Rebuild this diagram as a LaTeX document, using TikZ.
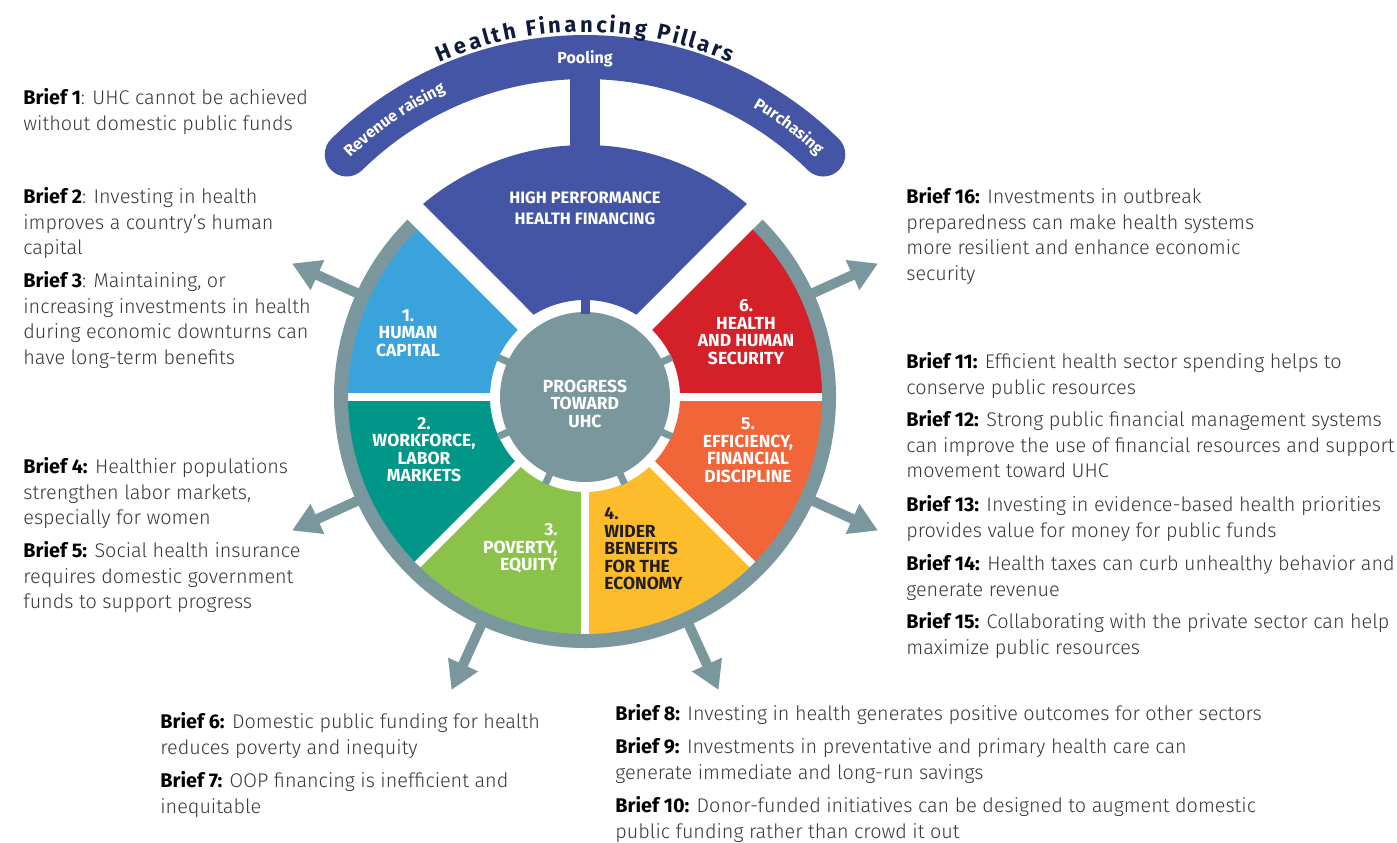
\documentclass[tikz,border=0pt]{standalone}
\usepackage{fontspec}
\setmainfont{Fira Sans}[UprightFont={* Light},BoldFont={* Bold}]
\newfontfamily\labelfam{Fira Sans}[UprightFont={* Bold}]
\usetikzlibrary{arrows.meta,decorations.text}
\definecolor{pblue}{RGB}{69,85,165}
\definecolor{pcyan}{RGB}{58,163,220}
\definecolor{pteal}{RGB}{0,150,136}
\definecolor{pgreen}{RGB}{139,195,74}
\definecolor{pyellow}{RGB}{253,188,44}
\definecolor{porange}{RGB}{241,101,57}
\definecolor{pred}{RGB}{212,32,41}
\definecolor{pgray}{RGB}{122,151,157}
\definecolor{pnavy}{RGB}{16,27,60}
\definecolor{ptext}{RGB}{55,55,55}
\definecolor{pdark}{RGB}{35,31,32}
\newcommand\brieffont{\fontsize{9.9pt}{12.85pt}\selectfont}
\newcommand\segfont{\labelfam\fontsize{8.75pt}{8.75pt}\selectfont}
\newcommand\hpfont{\labelfam\fontsize{8.25pt}{10.5pt}\selectfont}
\newcommand\bandfont{\labelfam\fontsize{8pt}{9pt}\selectfont}
\newcommand\titlefont{\labelfam\fontsize{11pt}{12pt}\selectfont}
\newcommand\briefhead[1]{{\bfseries\color{black}#1}}
\newcommand\firstln{\rule{0pt}{10pt}}
\begin{document}
\begin{tikzpicture}[x=0.5pt,y=0.5pt,
  brief/.style={anchor=north west, inner sep=0pt, align=left, font=\brieffont, text=ptext},
  seglabel/.style={inner sep=0pt, align=center, font=\segfont, text=white},
  spoke/.style={pgray, line width=5pt, -{Triangle[length=14pt,width=15.5pt]}},
  gapline/.style={white, line width=4pt},
  tab/.style={pgray, line width=3.5pt},
]
\useasboundingbox (0,0) rectangle (1397,-842);
\coordinate (C) at (585,-397);
\begin{scope}[shift={(C)}]
  % pillars band and stem
  \draw[pblue, line width=22pt, line cap=round] (134.5:340) arc (134.5:45.5:340);
  \fill[pblue] (-15,245) rectangle (15,325);
  % top wedge
  \fill[pblue] (130:252) arc (130:50:252) -- (58.06:97) arc (58.06:121.94:97) -- cycle;
  % coloured segments
  \fill[pcyan]   (135:95) -- (135:238) arc (135:180:238) -- (180:95) arc (180:135:95) -- cycle;
  \fill[pteal]   (180:95) -- (180:238) arc (180:225:238) -- (225:95) arc (225:180:95) -- cycle;
  \fill[pgreen]  (225:95) -- (225:238) arc (225:270:238) -- (270:95) arc (270:225:95) -- cycle;
  \fill[pyellow] (270:95) -- (270:238) arc (270:315:238) -- (315:95) arc (315:270:95) -- cycle;
  \fill[porange] (315:95) -- (315:238) arc (315:360:238) -- (360:95) arc (360:315:95) -- cycle;
  \fill[pred]    (0:95) -- (0:238) arc (0:45:238) -- (45:95) arc (45:0:95) -- cycle;
  \foreach \a in {0,180,225,270,315} \draw[gapline] (\a:88) -- (\a:240);
  % spokes
  \foreach \a in {24.5,155.5,204.5,245.5,294.5,335.5} \draw[spoke] (\a:244) -- (\a:322);
  % outer ring
  \fill[pgray] (135:251) arc (135:405:251) -- (405:237) arc (405:135:237) -- cycle;
  % hub
  \foreach \a in {24.5,155.5,204.5,245.5,294.5,335.5} \draw[tab] (\a:83) -- (\a:95.5);
  \fill[pgray] (0,0) circle (85);
  \fill[pblue] (-4.5,83) rectangle (4.5,99);
  % arc texts
  \path[decorate, decoration={text effects along path, text={Health Financing Pillars},
     text effects/.cd, text along path, fit text to path,
     characters={text=pnavy, font=\titlefont}}] (113.5:365) arc (113.5:66.5:365);
  \path[decorate, decoration={text along path, text align=center,
     text={|\bandfont\color{white}|Revenue raising}}] (142:335) arc (142:107:335);
  \path[decorate, decoration={text along path, text align=center,
     text={|\bandfont\color{white}|Purchasing}}] (68:335) arc (68:38:335);
\end{scope}
\node[inner sep=0pt, font=\bandfont, text=white] (pool) at (585,-59) {Pooling};
\node[seglabel, font=\hpfont] (hpf) at (585,-208.5) {HIGH PERFORMANCE\\HEALTH FINANCING};
\node[seglabel] (core) at (585,-403.5) {PROGRESS\\TOWARD\\UHC};
\node[seglabel] (s1) at (408,-333) {1.\\HUMAN\\CAPITAL};
\node[seglabel] (s2) at (424,-449.5) {2.\\WORKFORCE,\\LABOR\\MARKETS};
\node[seglabel, align=right, anchor=east] (s3) at (558,-548.5) {3.\\POVERTY,\\EQUITY};
\node[seglabel, align=left, anchor=west, text=pdark] (s4) at (604,-549) {4.\\WIDER\\BENEFITS\\FOR THE\\ECONOMY};
\node[seglabel] (s5) at (748,-450) {5.\\EFFICIENCY,\\FINANCIAL\\DISCIPLINE};
\node[seglabel] (s6) at (746,-332) {6.\\HEALTH\\AND HUMAN\\SECURITY};
% briefs
\node[brief] (b1) at (23,-84) {\firstln\briefhead{Brief 1}: UHC cannot be achieved\\without domestic public funds};
\node[brief] (b2) at (23,-183) {\firstln\briefhead{Brief 2}: Investing in health\\improves a country’s human\\capital};
\node[brief] (b3) at (23,-267) {\firstln\briefhead{Brief 3}: Maintaining, or\\increasing investments in health\\during economic downturns can\\have long-term benefits};
\node[brief] (b4) at (23,-453) {\firstln\briefhead{Brief 4:} Healthier populations\\strengthen labor markets,\\especially for women};
\node[brief] (b5) at (23,-537) {\firstln\briefhead{Brief 5:} Social health insurance\\requires domestic government\\funds to support progress};
\node[brief] (b6) at (160,-708) {\firstln\briefhead{Brief 6:} Domestic public funding for health\\reduces poverty and inequity};
\node[brief] (b7) at (160,-767) {\firstln\briefhead{Brief 7:} OOP financing is inefficient and\\inequitable};
\node[brief] (b8) at (615,-700) {\firstln\briefhead{Brief 8:} Investing in health generates positive outcomes for other sectors};
\node[brief] (b9) at (615,-733) {\firstln\briefhead{Brief 9:} Investments in preventative and primary health care can\\generate immediate and long-run savings};
\node[brief] (b10) at (615,-792) {\firstln\briefhead{Brief 10:} Donor-funded initiatives can be designed to augment domestic\\public funding rather than crowd it out};
\node[brief] (b16) at (906,-183) {\firstln\briefhead{Brief 16:} Investments in outbreak\\preparedness can make health systems\\more resilient and enhance economic\\security};
\node[brief] (b11) at (906,-348) {\firstln\briefhead{Brief 11:} Efficient health sector spending helps to\\conserve public resources};
\node[brief] (b12) at (906,-406) {\firstln\briefhead{Brief 12:} Strong public financial management systems\\can improve the use of financial resources and support\\movement toward UHC};
\node[brief] (b13) at (906,-491) {\firstln\briefhead{Brief 13:} Investing in evidence-based health priorities\\provides value for money for public funds};
\node[brief] (b14) at (906,-550) {\firstln\briefhead{Brief 14:} Health taxes can curb unhealthy behavior and\\generate revenue};
\node[brief] (b15) at (906,-608) {\firstln\briefhead{Brief 15:} Collaborating with the private sector can help\\maximize public resources};
\end{tikzpicture}
\end{document}
